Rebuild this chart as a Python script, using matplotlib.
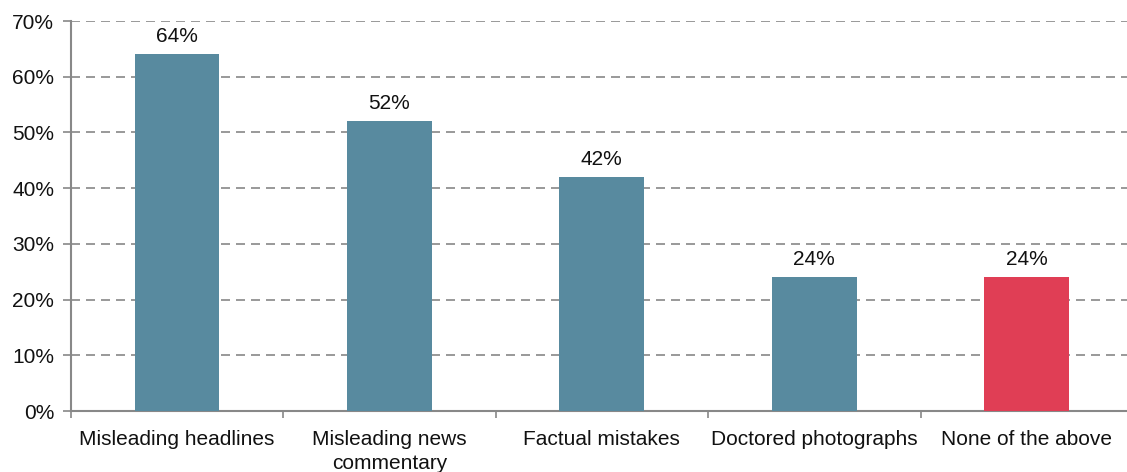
import matplotlib.pyplot as plt
from matplotlib.ticker import FixedLocator, FuncFormatter
import numpy as np

plt.rcParams['font.family'] = ['Liberation Sans', 'DejaVu Sans']

categories = ["Misleading headlines", "Misleading news\ncommentary", "Factual mistakes",
              "Doctored photographs", "None of the above"]
values = [64, 52, 42, 24, 24]
colors = ["#588a9f", "#588a9f", "#588a9f", "#588a9f", "#e03e55"]
yticks = [0, 10, 20, 30, 40, 50, 60, 70]

fig = plt.figure(figsize=(11.27, 4.72), dpi=100)
ax = fig.add_axes([0.0628, 0.1292, 0.9425, 0.8263])

x = np.arange(len(categories))
bars = ax.bar(x, values, width=0.40, color=colors, zorder=3)

for rect, v in zip(bars, values):
    ax.annotate(f"{v:.0f}%", (rect.get_x() + rect.get_width() / 2, v),
                xytext=(0, 6), textcoords="offset points",
                ha="center", va="bottom", fontsize=15, color="#111111")

ax.set_xlim(-0.5, len(categories) - 0.5)
ax.set_ylim(0, 70)
ax.set_yticks(yticks)
ax.yaxis.set_major_formatter(FuncFormatter(lambda v, p: f"{v:.0f}%"))
ax.yaxis.grid(True, linestyle=(0, (5.4, 3.6)), color="#888888", linewidth=1.2, zorder=0)

ax.set_xticks(x)
ax.set_xticklabels(categories, fontsize=15, color="#111111", linespacing=1.3)
ax.tick_params(axis="x", which="major", length=0, pad=14)
ax.xaxis.set_minor_locator(FixedLocator(np.arange(-0.5, len(categories), 1.0)))
ax.tick_params(axis="x", which="minor", length=5, width=1.2, color="#888888", direction="out")
ax.tick_params(axis="y", length=6, width=1.2, color="#888888", labelsize=15,
               labelcolor="#111111", pad=6)

for side in ("top", "right"):
    ax.spines[side].set_visible(False)
for side in ("left", "bottom"):
    ax.spines[side].set_color("#888888")
    ax.spines[side].set_linewidth(1.5)

plt.savefig("out.png", dpi=100)
